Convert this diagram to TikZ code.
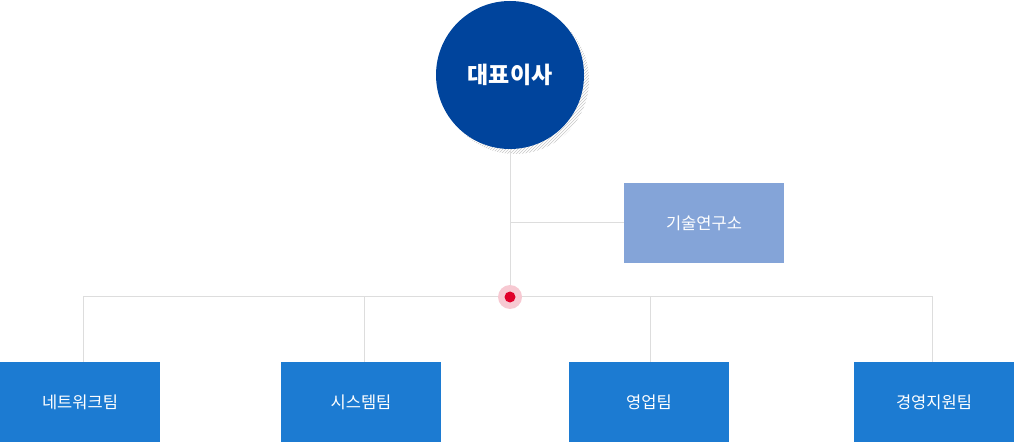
\documentclass[tikz,border=0pt]{standalone}
\usepackage{fontspec}
\newfontfamily\kr{Noto Sans CJK KR}
\usetikzlibrary{patterns}

\definecolor{ceoblue}{HTML}{00449C}
\definecolor{teamblue}{HTML}{1C7BD2}
\definecolor{labblue}{HTML}{84A4D8}
\definecolor{linegrey}{HTML}{DDDDDD}
\definecolor{dotred}{HTML}{E0002A}
\definecolor{dotpink}{HTML}{F7C9D2}

\tikzset{
  team/.style={fill=teamblue, text=white, minimum width=160pt, minimum height=80pt,
    inner sep=0pt, font=\kr\fontsize{16.5}{20}\selectfont},
  tie/.style={draw=linegrey, line width=1pt}
}

\begin{document}
\begin{tikzpicture}[x=1pt, y=1pt]
  \useasboundingbox (0, 0) rectangle (1014, 442);

  % CEO circle with hatched shadow
  \fill[pattern=north east lines, pattern color=black!22] (515, 362) circle (74);
  \node[circle, fill=ceoblue, text=white, minimum size=148pt, inner sep=0pt,
        font=\kr\bfseries\fontsize{23}{27}\selectfont] (ceo) at (510, 367) {대표이사};

  % Lab
  \node[fill=labblue, text=white, minimum width=160pt, minimum height=80pt, inner sep=0pt,
        font=\kr\fontsize{16.5}{20}\selectfont] (lab) at (704, 219) {기술연구소};

  % Teams
  \node[team] (net)  at (80, 40)  {네트워크팀};
  \node[team] (sys)  at (361, 40) {시스템팀};
  \node[team] (sale) at (649, 40) {영업팀};
  \node[team] (mgmt) at (934, 40) {경영지원팀};

  % Junction
  \coordinate (hub) at (510, 145);
  \coordinate (labtap) at (510, 219);
  \coordinate (nettop) at ([xshift=3pt]net.north);
  \coordinate (systop) at ([xshift=3pt]sys.north);
  \coordinate (saletop) at ([xshift=1pt]sale.north);
  \coordinate (mgmttop) at ([xshift=-2pt]mgmt.north);

  % Connectors
  \draw[tie] (ceo.south) -- (hub);
  \draw[tie] (labtap) -- (lab.west);
  \draw[tie] (nettop) -- (nettop |- hub) -- (mgmttop |- hub) -- (mgmttop);
  \draw[tie] (systop) -- (systop |- hub);
  \draw[tie] (saletop) -- (saletop |- hub);

  % Red dot
  \fill[dotpink] (hub) circle (12);
  \node[circle, fill=dotred, minimum size=11pt, inner sep=0pt] (dot) at (hub) {};
\end{tikzpicture}
\end{document}
